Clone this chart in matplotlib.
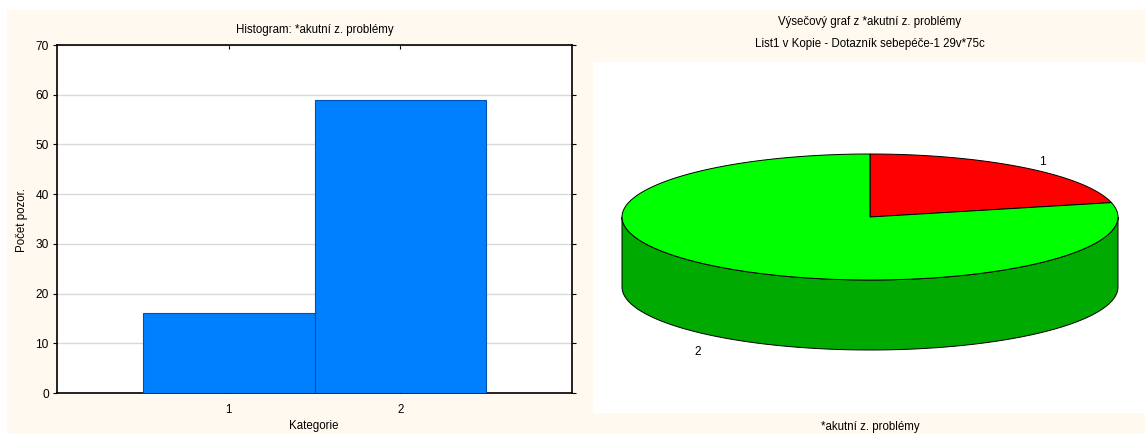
import numpy as np
import matplotlib
matplotlib.use("Agg")
import matplotlib.pyplot as plt
from matplotlib.patches import Rectangle, Polygon

plt.rcParams['font.family'] = ['Liberation Sans', 'DejaVu Sans']

# ---- data ----
categories = [1, 2]
counts = [16, 59]
cat_labels = ["1", "2"]
y_ticks = [0, 10, 20, 30, 40, 50, 60, 70]
pie_colors_top = ["#FF0000", "#00FF00"]
pie_colors_side = ["#AA0000", "#00AA00"]

W, H = 1145, 434
fig = plt.figure(figsize=(W / 100, H / 100), dpi=100)
fig.patch.set_facecolor("white")
cream = "#FFF9EF"

def fx(px):
    return px / W

def fy(py):
    return 1 - py / H

# cream background panel
bg = fig.add_axes([0, 0, 1, 1], zorder=-10)
bg.set_xlim(0, W); bg.set_ylim(H, 0); bg.axis("off")
bg.add_patch(Rectangle((7, 10), W - 7, H - 10, facecolor=cream, edgecolor="none"))

fs = 8.3

# ---- histogram ----
ax = fig.add_axes([fx(57), fy(393), fx(572) - fx(57), fy(45) - fy(393)])
ax.set_facecolor("white")
ax.bar(categories, counts, width=1.0, color="#0080FF", edgecolor="#0050B0", linewidth=0.8, zorder=3)
ax.set_xlim(0, 3)
ax.set_ylim(0, 70)
ax.set_yticks(y_ticks)
ax.set_xticks(categories)
ax.set_xticklabels(cat_labels)
ax.grid(axis="y", color="#D9D9D9", linewidth=1.0, zorder=0)
for s in ax.spines.values():
    s.set_color("black"); s.set_linewidth(1.2)
ax.tick_params(axis="y", left=True, right=True, direction="out", length=3, labelsize=fs + 0.3, pad=3)
ax.tick_params(axis="x", bottom=True, top=True, direction="in", length=3, labelsize=fs, pad=8)
ax.set_title("Histogram: *akutní z. problémy", fontsize=fs, pad=9)

fig.text(fx(314), fy(426), "Kategorie", fontsize=fs, ha="center", va="center")
fig.text(fx(22), fy(220), "Počet pozor.", fontsize=fs, ha="center", va="center", rotation=90)

# ---- 3D pie ----
pax = fig.add_axes([fx(593), fy(413), fx(1145) - fx(593), fy(62) - fy(413)])
pax.set_facecolor("white")
pax.set_xlim(593, 1145); pax.set_ylim(413, 62)
pax.set_xticks([]); pax.set_yticks([])
for s in pax.spines.values():
    s.set_visible(False)

cx, cy, rx, ry, depth = 870, 217, 248, 63, 70
total = float(sum(counts))
fr = np.array(counts) / total
start = 90.0
angles = []
a = start
for f in fr:
    angles.append((a, a - 360 * f))  # clockwise
    a -= 360 * f

def ell(th, dy=0.0):
    t = np.radians(th)
    return np.column_stack([cx + rx * np.cos(t), cy - ry * np.sin(t) + dy])

# sides (front half: angles where sin<0)
for (a0, a1), col in zip(angles, pie_colors_side):
    lo, hi = min(a0, a1), max(a0, a1)
    segs = []
    for off in (-360, 0, 360):
        l, h = lo + off, hi + off
        l2, h2 = max(l, -180), min(h, 0)
        if h2 > l2:
            segs.append((l2, h2))
    for l2, h2 in segs:
        th = np.linspace(l2, h2, 120)
        top = ell(th)
        bot = ell(th[::-1], depth)
        pax.add_patch(Polygon(np.vstack([top, bot]), closed=True, facecolor=col,
                              edgecolor="black", linewidth=0.7, zorder=2))

# top faces
for (a0, a1), col in zip(angles, pie_colors_top):
    th = np.linspace(a0, a1, 200)
    pts = np.vstack([[cx, cy], ell(th)])
    pax.add_patch(Polygon(pts, closed=True, facecolor=col, edgecolor="black",
                          linewidth=0.7, zorder=3))

# labels
for (a0, a1), lab in zip(angles, cat_labels):
    mid = (a0 + a1) / 2
    t = np.radians(mid)
    k = 1.12
    x = cx + rx * k * np.cos(t)
    y = cy - ry * k * np.sin(t)
    if np.sin(t) < 0:
        y += depth + 10
    pax.text(x, y, lab, fontsize=fs + 0.3, ha="center", va="center", zorder=5)

fig.text(fx(870), fy(22), "Výsečový graf z *akutní z. problémy", fontsize=fs, ha="center", va="center")
fig.text(fx(870), fy(44), "List1 v Kopie - Dotazník sebepéče-1 29v*75c", fontsize=fs, ha="center", va="center")
fig.text(fx(870), fy(427), "*akutní z. problémy", fontsize=fs, ha="center", va="center")

fig.savefig("out.png", dpi=100, facecolor=fig.get_facecolor())
